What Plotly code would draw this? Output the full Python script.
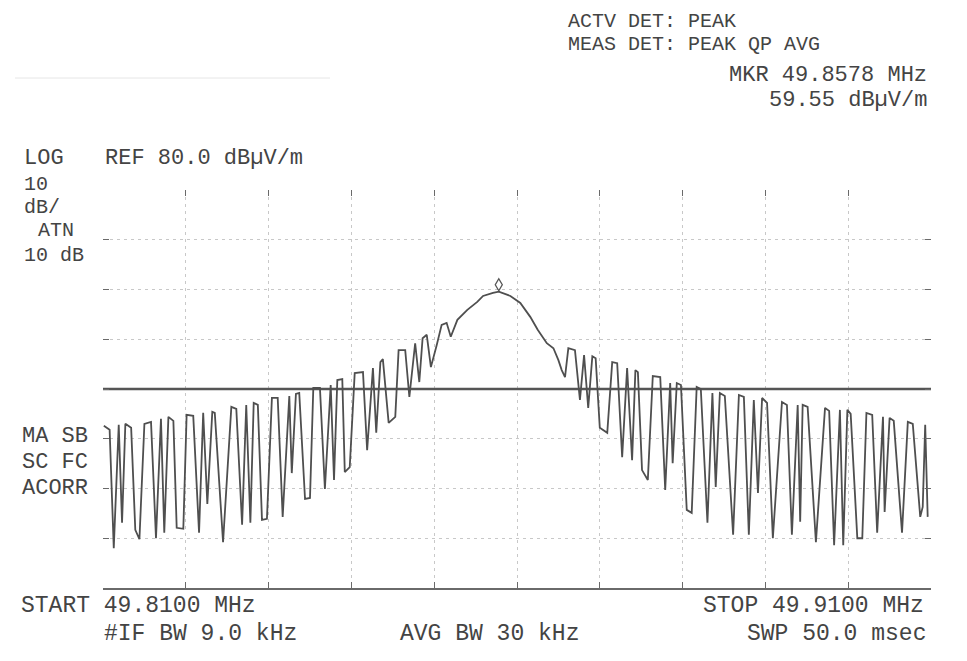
import plotly.graph_objects as go

# ---------------- data ----------------
start_mhz = 49.81
stop_mhz = 49.91
ref_level = 80.0          # dBuV/m at top of screen
db_per_div = 10
limit_level = 40.0        # horizontal limit line, dBuV/m
mkr_freq = 49.8578
mkr_level = 59.55

trace_freq = [
    49.8101, 49.8108, 49.8113, 49.8119, 49.8123, 49.8127, 49.8134, 49.8139, 49.8144, 49.8150,
    49.8158, 49.8164, 49.8170, 49.8174, 49.8179, 49.8185, 49.8189, 49.8197, 49.8201, 49.8209,
    49.8216, 49.8221, 49.8226, 49.8232, 49.8235, 49.8245, 49.8255, 49.8261, 49.8268, 49.8273,
    49.8278, 49.8282, 49.8287, 49.8292, 49.8298, 49.8304, 49.8311, 49.8317, 49.8325, 49.8328,
    49.8333, 49.8337, 49.8344, 49.8350, 49.8354, 49.8362, 49.8368, 49.8375, 49.8379, 49.8383,
    49.8389, 49.8392, 49.8398, 49.8404, 49.8414, 49.8419, 49.8426, 49.8430, 49.8435, 49.8438,
    49.8445, 49.8453, 49.8457, 49.8465, 49.8470, 49.8477, 49.8482, 49.8486, 49.8491, 49.8496,
    49.8503, 49.8509, 49.8515, 49.8520, 49.8528, 49.8540, 49.8552, 49.8559, 49.8571, 49.8578,
    49.8592, 49.8604, 49.8616, 49.8625, 49.8636, 49.8644, 49.8650, 49.8654, 49.8658, 49.8662,
    49.8670, 49.8676, 49.8681, 49.8686, 49.8691, 49.8695, 49.8700, 49.8709, 49.8715, 49.8721,
    49.8727, 49.8733, 49.8739, 49.8743, 49.8746, 49.8751, 49.8758, 49.8764, 49.8773, 49.8779,
    49.8785, 49.8788, 49.8793, 49.8798, 49.8805, 49.8811, 49.8817, 49.8822, 49.8830, 49.8836,
    49.8840, 49.8845, 49.8851, 49.8861, 49.8868, 49.8874, 49.8880, 49.8886, 49.8891, 49.8896,
    49.8902, 49.8909, 49.8920, 49.8926, 49.8932, 49.8939, 49.8942, 49.8945, 49.8951, 49.8961,
    49.8972, 49.8977, 49.8983, 49.8990, 49.8994, 49.8999, 49.9003, 49.9011, 49.9017, 49.9022,
    49.9029, 49.9035, 49.9042, 49.9044, 49.9050, 49.9055, 49.9065, 49.9072, 49.9078, 49.9087,
    49.9090, 49.9093, 49.9096,
]
trace_level = [
    32.6, 31.8, 8.0, 32.8, 13.1, 33.0, 32.2, 11.7, 9.8, 33.0,
    33.4, 10.0, 34.0, 11.1, 34.4, 33.6, 12.1, 11.9, 34.8, 34.6,
    11.1, 35.2, 16.9, 35.4, 35.2, 9.2, 36.4, 36.0, 12.7, 36.8,
    13.1, 37.2, 36.8, 13.7, 13.9, 38.2, 38.2, 14.3, 38.6, 23.1,
    39.0, 39.2, 17.9, 18.1, 40.2, 40.2, 19.9, 40.8, 21.7, 41.8,
    42.0, 23.3, 24.3, 43.2, 43.4, 27.7, 44.2, 31.2, 45.4, 46.0,
    33.2, 34.4, 47.8, 47.8, 38.4, 49.2, 41.4, 50.2, 50.9, 44.4,
    48.8, 52.9, 53.3, 50.5, 53.9, 55.9, 57.5, 58.7, 59.3, 59.55,
    58.7, 57.3, 54.5, 51.9, 49.2, 48.2, 45.8, 43.8, 42.4, 48.2,
    47.8, 37.8, 46.8, 36.2, 46.6, 46.2, 32.2, 31.2, 45.4, 45.2,
    26.3, 44.2, 25.7, 43.8, 43.4, 23.7, 21.7, 42.6, 42.4, 19.7,
    41.2, 25.1, 41.2, 40.8, 15.7, 15.1, 40.4, 40.0, 13.1, 39.2,
    20.3, 39.2, 38.6, 10.7, 38.8, 38.4, 10.7, 37.8, 19.1, 38.2,
    37.2, 10.0, 37.4, 36.8, 10.7, 36.8, 13.3, 36.8, 36.4, 9.2,
    36.2, 35.6, 8.6, 35.8, 8.6, 35.8, 35.0, 10.0, 10.0, 35.2,
    34.8, 11.1, 34.4, 15.3, 34.2, 33.6, 11.1, 33.4, 33.0, 14.3,
    16.3, 32.8, 14.3,
]

# ---------------- annotation texts ----------------
hdr_lines = ["ACTV DET: PEAK", "MEAS DET: PEAK QP AVG"]
mkr_lines = ["MKR 49.8578 MHz", "59.55 dBµV/m"]
left_top = ["LOG", "10", "dB/", "ATN", "10 dB"]
ref_text = "REF 80.0 dBµV/m"
left_mid = ["MA SB", "SC FC", "ACORR"]
bottom_texts = ["START 49.8100 MHz", "STOP 49.9100 MHz",
                "#IF BW 9.0 kHz", "AVG BW 30 kHz", "SWP 50.0 msec"]

# page is drawn with an 8px body margin, so the figure is 8px smaller
W, H = 959, 653
L, R, T, B = 95, 36, 182, 73
PW, PH = W - L - R, H - T - B
OFF = 8

INK = "#444444"
FONT = "Liberation Mono, DejaVu Sans Mono, monospace"


def px(xp):
    return (xp - OFF - L) / PW


def py(yp):
    return (H - B - (yp - OFF)) / PH


fig = go.Figure()

fig.add_trace(go.Scatter(
    x=[start_mhz, stop_mhz], y=[limit_level, limit_level], mode="lines",
    line=dict(color="#555555", width=2.6), hoverinfo="skip"))

fig.add_trace(go.Scatter(
    x=trace_freq, y=trace_level, mode="lines",
    line=dict(color="#4f4f4f", width=1.8), hoverinfo="skip"))

annos = []


def txt(s, xp, yp, xa="left", fs=22):
    annos.append(dict(text=s, x=px(xp), y=py(yp), xref="paper", yref="paper",
                      xanchor=xa, yanchor="middle", showarrow=False,
                      font=dict(family=FONT, size=fs, color=INK)))


# top right block
txt(hdr_lines[0], 566, 21, fs=20)
txt(hdr_lines[1], 566, 44, fs=20)
txt(mkr_lines[0], 929, 75, "right")
txt(mkr_lines[1], 929, 101, "right")

# left column
txt(left_top[0], 22, 158)
txt(ref_text, 103, 158)
txt(left_top[1], 22, 184, fs=20)
txt(left_top[2], 22, 207, fs=20)
txt(left_top[3], 36, 231, fs=20)
txt(left_top[4], 22, 255, fs=20)
txt(left_mid[0], 20, 436)
txt(left_mid[1], 20, 462)
txt(left_mid[2], 20, 488)

# bottom
txt(bottom_texts[0], 19, 606, fs=23)
txt(bottom_texts[1], 926, 606, "right", fs=23)
txt(bottom_texts[2], 102, 634, fs=23)
txt(bottom_texts[3], 398, 634, fs=23)
txt(bottom_texts[4], 928, 634, "right", fs=23)

# marker diamond sitting on top of the trace at the marker point
shapes = [
    dict(type="path", xref="x", yref="y", xsizemode="pixel", ysizemode="pixel",
         xanchor=mkr_freq, yanchor=mkr_level,
         path="M0,1 L-3.5,7 L0,13 L3.5,7 Z",
         line=dict(color="#555555", width=1.3), fillcolor="rgba(0,0,0,0)"),
    # faint scanner streak at top left of the printout
    dict(type="line", xref="paper", yref="paper",
         x0=px(15), x1=px(330), y0=py(78), y1=py(78),
         line=dict(color="#e6e6e6", width=1)),
]

grid = dict(showgrid=True, gridcolor="#c8c8c8", gridwidth=1, griddash="3px,4px",
            showticklabels=False, ticks="inside", ticklen=6, tickcolor="#6a6a6a",
            zeroline=False, fixedrange=True)

fig.update_layout(
    width=W, height=H,
    margin=dict(l=L, r=R, t=T, b=B),
    paper_bgcolor="white", plot_bgcolor="white",
    showlegend=False,
    annotations=annos,
    shapes=shapes,
    xaxis=dict(range=[start_mhz, stop_mhz], tick0=start_mhz, dtick=0.01,
               showline=True, linecolor="#6a6a6a", linewidth=1.5, **grid),
    xaxis2=dict(range=[start_mhz, stop_mhz], tick0=start_mhz, dtick=0.01,
                overlaying="x", side="top", showline=False,
                **{**grid, "showgrid": False}),
    yaxis=dict(range=[ref_level - 8 * db_per_div, ref_level], dtick=db_per_div,
               showline=False, **grid),
    yaxis2=dict(range=[ref_level - 8 * db_per_div, ref_level], dtick=db_per_div,
                overlaying="y", side="right", showline=False,
                **{**grid, "showgrid": False}),
)

# invisible trace to activate the mirrored tick axes
fig.add_trace(go.Scatter(x=[start_mhz], y=[ref_level], xaxis="x2", yaxis="y2",
                         mode="markers", marker=dict(opacity=0), hoverinfo="skip"))

fig.write_html("out.html")
